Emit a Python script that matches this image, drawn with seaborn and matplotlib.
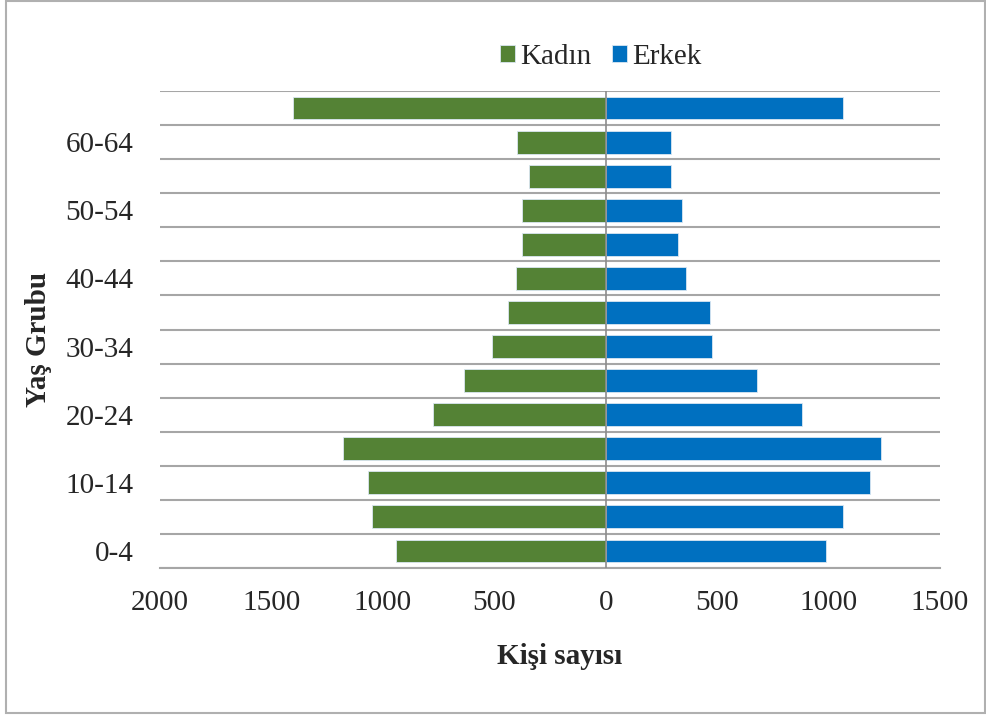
import matplotlib
matplotlib.use("Agg")
import matplotlib.pyplot as plt
import numpy as np
import pandas as pd
import seaborn as sns
from matplotlib.patches import Rectangle

# yaş grupları (aşağıdan yukarıya)
age_groups = ["0-4", "5-9", "10-14", "15-19", "20-24", "25-29", "30-34",
              "35-39", "40-44", "45-49", "50-54", "55-59", "60-64", "65+"]
kadin = [940, 1050, 1067, 1181, 777, 634, 512, 440, 401, 375, 377, 344, 396, 1404]
erkek = [990, 1064, 1185, 1237, 882, 677, 478, 467, 361, 326, 343, 291, 294, 1066]
x_ticks = [-2000, -1500, -1000, -500, 0, 500, 1000, 1500]
x_tick_labels = ["2000", "1500", "1000", "500", "0", "500", "1000", "1500"]
y_labels_shown = ["0-4", "10-14", "20-24", "30-34", "40-44", "50-54", "60-64"]

sns.set_theme(style="white")
plt.rcParams["font.family"] = ["Liberation Serif", "DejaVu Serif"]

df = pd.DataFrame({
    "Yaş Grubu": age_groups * 2,
    "Kişi sayısı": [-v for v in kadin] + erkek,
    "Cinsiyet": ["Kadın"] * len(kadin) + ["Erkek"] * len(erkek),
})

FS = 21
GRID = "#A6A6A6"

fig = plt.figure(figsize=(9.86, 7.17), dpi=100)
ax = fig.add_axes([160 / 986, 1 - 568 / 717, 780 / 986, 477 / 717])

order = age_groups[::-1]
sns.barplot(data=df, x="Kişi sayısı", y="Yaş Grubu", hue="Cinsiyet",
            order=order, hue_order=["Kadın", "Erkek"], dodge=False,
            palette={"Kadın": "#548235", "Erkek": "#0070C0"}, saturation=1,
            width=0.67, orient="h", ax=ax, legend=True,
            edgecolor="#D9E6F2", linewidth=0.6)

ax.set_xlim(-2000, 1500)
ax.set_ylim(len(order) - 0.5, -0.5)

# kategori sınırlarında yatay çizgiler
ax.set_yticks(np.arange(-0.5, len(order), 1), minor=True)
ax.grid(which="minor", axis="y", color=GRID, linewidth=1.5)
ax.grid(which="major", visible=False)
ax.set_axisbelow(True)
ax.axvline(0, color="#8C8C8C", linewidth=1.2, zorder=3)

ax.set_yticks([order.index(l) for l in y_labels_shown])
ax.set_yticklabels(y_labels_shown, fontsize=FS)
ax.tick_params(axis="y", which="both", length=0, pad=19)

ax.set_xticks(x_ticks)
ax.set_xticklabels(x_tick_labels, fontsize=FS)
ax.tick_params(axis="x", length=6, width=1.2, color=GRID, direction="out", pad=10)

for s in ["top", "right", "left"]:
    ax.spines[s].set_visible(False)
ax.spines["bottom"].set_color(GRID)
ax.spines["bottom"].set_linewidth(1.5)

ax.set_xlabel("")
ax.set_ylabel("")
fig.text(560 / 986, 1 - 657 / 717, "Kişi sayısı", fontsize=FS, fontweight="bold",
         ha="center", va="center")
fig.text(38 / 986, 1 - 339 / 717, "Yaş Grubu", fontsize=FS, fontweight="bold",
         ha="center", va="center", rotation=90)

handles, labels = ax.get_legend_handles_labels()
ax.legend_.remove()
fig.legend(handles, labels, loc="center", bbox_to_anchor=(601 / 986, 1 - 57 / 717),
           ncol=2, frameon=False, fontsize=FS, handlelength=0.5, handleheight=0.5,
           handletextpad=0.2, columnspacing=0.7, borderpad=0)

fig.patches.append(Rectangle((6 / 986, 4 / 717), 979 / 986, 712 / 717,
                             transform=fig.transFigure, fill=False,
                             edgecolor="#B0B0B0", linewidth=1.5))

fig.savefig("out.png", dpi=100)
